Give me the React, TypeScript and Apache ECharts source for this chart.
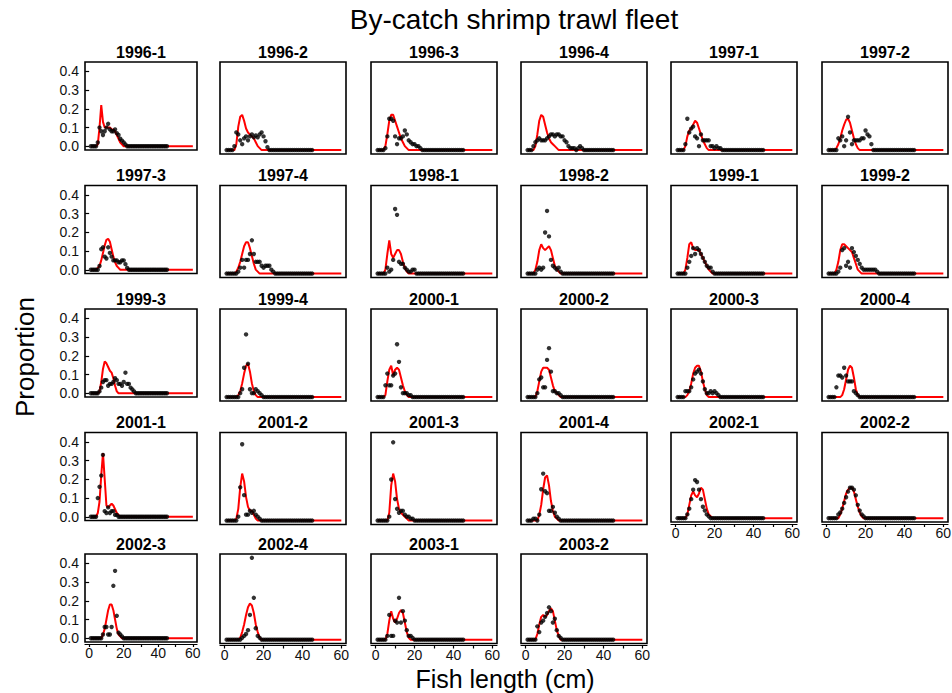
import React, { useEffect, useRef } from 'react';
import * as echarts from 'echarts';

// Panel labels (year-quarter), row by row, six per row
const panelLabels = [
  '1996-1', '1996-2', '1996-3', '1996-4', '1997-1', '1997-2',
  '1997-3', '1997-4', '1998-1', '1998-2', '1999-1', '1999-2',
  '1999-3', '1999-4', '2000-1', '2000-2', '2000-3', '2000-4',
  '2001-1', '2001-2', '2001-3', '2001-4', '2002-1', '2002-2',
  '2002-3', '2002-4', '2003-1', '2003-2',
];

// Observed length compositions: first non-zero length (cm) and proportions from there on.
// Every other length from 1 to 45 cm is zero.
const obsStart = [
  5, 5, 5, 4, 5, 6,
  6, 7, 6, 6, 6, 6,
  6, 8, 5, 6, 5, 5,
  5, 7, 7, 4, 6, 6,
  8, 9, 6, 6,
];
const obsValues: number[][] = [
  [0.02, 0.10, 0.08, 0.06, 0.08, 0.10, 0.12, 0.09, 0.08, 0.08, 0.09, 0.07, 0.06, 0.04, 0.03, 0.02, 0.01], // 1996-1
  [0.02, 0.09, 0.08, 0.05, 0.03, 0.06, 0.07, 0.05, 0.07, 0.08, 0.065, 0.075, 0.065, 0.08, 0.09, 0.07, 0.045, 0.015], // 1996-2
  [0.01, 0.07, 0.16, 0.16, 0.15, 0.07, 0.03, 0.06, 0.06, 0.07, 0.10, 0.08, 0.05, 0.04, 0.03, 0.03, 0.02, 0.02, 0.01], // 1996-3
  [0.02, 0.04, 0.05, 0.06, 0.05, 0.05, 0.05, 0.06, 0.07, 0.08, 0.08, 0.07, 0.08, 0.08, 0.07, 0.07, 0.05, 0.04, 0.02, 0.01, 0.01, 0.01, 0.0, 0.01, 0.02, 0.01], // 1996-4
  [0.03, 0.16, 0.09, 0.11, 0.12, 0.07, 0.06, 0.02, 0.08, 0.05, 0.05, 0.05, 0.05, 0.02, 0.02, 0.01, 0.02, 0.01, 0.01], // 1997-1
  [0.06, 0.05, 0.07, 0.02, 0.05, 0.17, 0.09, 0.03, 0.05, 0.05, 0.05, 0.05, 0.06, 0.06, 0.10, 0.08, 0.07, 0.03], // 1997-2
  [0.02, 0.11, 0.12, 0.07, 0.06, 0.12, 0.09, 0.07, 0.05, 0.05, 0.05, 0.04, 0.04, 0.05, 0.05, 0.03, 0.01], // 1997-3
  [0.01, 0.03, 0.07, 0.03, 0.07, 0.07, 0.10, 0.17, 0.10, 0.06, 0.06, 0.06, 0.04, 0.03, 0.04, 0.04, 0.04, 0.02, 0.01], // 1997-4
  [0.03, 0.01, 0.02, 0.07, 0.33, 0.30, 0.06, 0.05, 0.05, 0.03, 0.02, 0.01, 0.01, 0.02, 0.02], // 1998-1
  [0.02, 0.03, 0.02, 0.03, 0.21, 0.32, 0.19, 0.07, 0.04, 0.03, 0.02, 0.03, 0.01], // 1998-2
  [0.03, 0.06, 0.09, 0.13, 0.10, 0.13, 0.12, 0.10, 0.08, 0.06, 0.04, 0.03, 0.03, 0.01], // 1999-1
  [0.01, 0.03, 0.12, 0.13, 0.04, 0.06, 0.03, 0.13, 0.11, 0.09, 0.07, 0.05, 0.03, 0.02, 0.02, 0.02, 0.02, 0.02, 0.02, 0.02, 0.01], // 1999-2
  [0.01, 0.03, 0.06, 0.07, 0.07, 0.04, 0.05, 0.05, 0.06, 0.08, 0.07, 0.05, 0.05, 0.04, 0.06, 0.11, 0.05, 0.05, 0.03, 0.02, 0.01], // 1999-3
  [0.02, 0.04, 0.15, 0.32, 0.17, 0.04, 0.02, 0.02, 0.04, 0.03, 0.02, 0.01], // 1999-4
  [0.06, 0.12, 0.06, 0.06, 0.11, 0.12, 0.27, 0.18, 0.05, 0.02, 0.02, 0.02, 0.01, 0.01], // 2000-1
  [0.02, 0.09, 0.10, 0.05, 0.05, 0.19, 0.25, 0.13, 0.03, 0.03, 0.02, 0.02, 0.01], // 2000-2
  [0.03, 0.03, 0.03, 0.05, 0.09, 0.12, 0.13, 0.14, 0.12, 0.08, 0.04, 0.02, 0.02, 0.03, 0.02, 0.03, 0.02, 0.01], // 2000-3
  [0.05, 0.11, 0.11, 0.10, 0.15, 0.11, 0.08, 0.08, 0.08, 0.03, 0.02, 0.01], // 2000-4
  [0.10, 0.16, 0.22, 0.33, 0.03, 0.02, 0.05, 0.02, 0.03, 0.03, 0.01, 0.01], // 2001-1
  [0.02, 0.17, 0.39, 0.13, 0.03, 0.03, 0.05, 0.04, 0.05, 0.03, 0.02, 0.01], // 2001-2
  [0.02, 0.21, 0.40, 0.11, 0.06, 0.04, 0.05, 0.05, 0.03, 0.02, 0.02, 0.01, 0.01], // 2001-3
  [0.01, 0.01, 0.0, 0.03, 0.16, 0.24, 0.15, 0.14, 0.05, 0.05, 0.07, 0.04, 0.02, 0.01], // 2001-4
  [0.02, 0.05, 0.10, 0.15, 0.20, 0.19, 0.15, 0.10, 0.06, 0.04, 0.02, 0.01], // 2002-1
  [0.02, 0.03, 0.05, 0.08, 0.11, 0.14, 0.16, 0.16, 0.15, 0.12, 0.07, 0.04, 0.02, 0.01], // 2002-2
  [0.02, 0.06, 0.06, 0.02, 0.02, 0.06, 0.28, 0.36, 0.12, 0.03, 0.02, 0.01], // 2002-3
  [0.01, 0.02, 0.03, 0.05, 0.13, 0.43, 0.22, 0.06, 0.02, 0.01], // 2002-4
  [0.02, 0.13, 0.02, 0.02, 0.10, 0.09, 0.22, 0.09, 0.15, 0.10, 0.05, 0.02, 0.02, 0.01], // 2003-1
  [0.07, 0.04, 0.09, 0.10, 0.12, 0.14, 0.17, 0.15, 0.09, 0.11, 0.05, 0.02, 0.01], // 2003-2
];

// Expected (model) length compositions: first non-zero length (cm) and values.
// Every other length from 1 to 60 cm is zero.
const fitStart = [
  5, 6, 5, 5, 5, 5,
  5, 6, 5, 5, 5, 5,
  6, 7, 5, 6, 6, 8,
  5, 6, 7, 7, 6, 7,
  8, 8, 6, 6,
];
const fitValues: number[][] = [
  [0.01, 0.10, 0.22, 0.13, 0.10, 0.10, 0.10, 0.10, 0.09, 0.09, 0.08, 0.06, 0.04, 0.02, 0.01], // 1996-1
  [0.03, 0.12, 0.17, 0.18, 0.15, 0.11, 0.09, 0.08, 0.07, 0.06, 0.04, 0.02, 0.01], // 1996-2
  [0.02, 0.08, 0.15, 0.18, 0.18, 0.15, 0.12, 0.09, 0.06, 0.04, 0.02, 0.01], // 1996-3
  [0.02, 0.08, 0.15, 0.18, 0.17, 0.13, 0.09, 0.06, 0.04, 0.03, 0.02, 0.01], // 1996-4
  [0.02, 0.07, 0.10, 0.11, 0.13, 0.15, 0.14, 0.11, 0.08, 0.05, 0.03, 0.01], // 1997-1
  [0.01, 0.03, 0.06, 0.10, 0.13, 0.155, 0.16, 0.14, 0.10, 0.06, 0.03, 0.01], // 1997-2
  [0.01, 0.02, 0.05, 0.09, 0.13, 0.16, 0.165, 0.15, 0.11, 0.07, 0.04, 0.02, 0.01], // 1997-3
  [0.01, 0.03, 0.06, 0.10, 0.14, 0.16, 0.16, 0.13, 0.09, 0.05, 0.02, 0.01], // 1997-4
  [0.02, 0.10, 0.17, 0.10, 0.08, 0.10, 0.12, 0.12, 0.10, 0.06, 0.03, 0.01], // 1998-1
  [0.02, 0.06, 0.12, 0.15, 0.13, 0.12, 0.13, 0.14, 0.12, 0.08, 0.04, 0.02, 0.01], // 1998-2
  [0.02, 0.08, 0.15, 0.16, 0.13, 0.12, 0.12, 0.12, 0.10, 0.08, 0.06, 0.04, 0.02, 0.01], // 1999-1
  [0.02, 0.06, 0.12, 0.15, 0.15, 0.14, 0.13, 0.12, 0.11, 0.08, 0.05, 0.02, 0.01], // 1999-2
  [0.01, 0.06, 0.13, 0.17, 0.16, 0.14, 0.12, 0.11, 0.08, 0.04, 0.01], // 1999-3
  [0.01, 0.03, 0.07, 0.12, 0.16, 0.17, 0.13, 0.07, 0.03, 0.01], // 1999-4
  [0.01, 0.08, 0.14, 0.16, 0.11, 0.14, 0.15, 0.14, 0.10, 0.06, 0.03, 0.01], // 2000-1
  [0.03, 0.08, 0.13, 0.15, 0.15, 0.15, 0.14, 0.10, 0.06, 0.03, 0.02, 0.01], // 2000-2
  [0.01, 0.03, 0.07, 0.12, 0.15, 0.16, 0.16, 0.13, 0.08, 0.04, 0.01], // 2000-3
  [0.01, 0.04, 0.09, 0.14, 0.16, 0.15, 0.10, 0.04, 0.01], // 2000-4
  [0.02, 0.08, 0.22, 0.34, 0.20, 0.06, 0.05, 0.06, 0.07, 0.06, 0.04, 0.02, 0.01], // 2001-1
  [0.01, 0.06, 0.17, 0.24, 0.20, 0.12, 0.07, 0.05, 0.05, 0.03, 0.01], // 2001-2
  [0.04, 0.18, 0.24, 0.20, 0.11, 0.06, 0.04, 0.03, 0.02, 0.01], // 2001-3
  [0.03, 0.08, 0.16, 0.22, 0.23, 0.18, 0.10, 0.05, 0.02, 0.01], // 2001-4
  [0.02, 0.07, 0.12, 0.14, 0.12, 0.11, 0.13, 0.16, 0.15, 0.10, 0.05, 0.02, 0.01], // 2002-1
  [0.02, 0.05, 0.09, 0.13, 0.15, 0.16, 0.16, 0.14, 0.10, 0.06, 0.03, 0.01], // 2002-2
  [0.02, 0.05, 0.10, 0.15, 0.18, 0.18, 0.15, 0.10, 0.05, 0.02, 0.01], // 2002-3
  [0.01, 0.04, 0.08, 0.13, 0.17, 0.19, 0.18, 0.14, 0.08, 0.04, 0.01], // 2002-4
  [0.03, 0.10, 0.15, 0.11, 0.09, 0.11, 0.14, 0.155, 0.14, 0.09, 0.04, 0.01], // 2003-1
  [0.03, 0.08, 0.12, 0.13, 0.12, 0.13, 0.15, 0.165, 0.15, 0.10, 0.05, 0.02], // 2003-2
];

const obsLastLength = 45;
const fitLastLength = 60;
const lengthTicks = [0, 10, 20, 30, 40, 50, 60];
const lengthLabels = [0, 20, 40, 60];
const proportionTicks = [0, 0.1, 0.2, 0.3, 0.4];
// Panels that carry the length axis (bottom of each column)
const axisPanels = [22, 23, 24, 25, 26, 27];

// Layout of the panel boxes (px)
const colLeft = [85, 220, 371, 521, 671, 822];
const colWidth = [112, 126, 126, 126, 126, 126];
const rowTop = [62, 185.5, 309, 432.5, 554];
const FONT = '"Liberation Sans", Arial, Helvetica, sans-serif';

function composition(start: number, values: number[], last: number): [number, number][] {
  const out: [number, number][] = [];
  for (let len = 1; len <= last; len++) {
    const k = len - start;
    out.push([len, k >= 0 && k < values.length ? values[k] : 0]);
  }
  return out;
}

export default function App() {
  const ref = useRef<HTMLDivElement>(null);

  useEffect(() => {
    if (!ref.current) return;
    const chart = echarts.init(ref.current, null, { renderer: 'svg' });

    const grid: any[] = [];
    const xAxis: any[] = [];
    const yAxis: any[] = [];
    const series: any[] = [];
    const graphic: any[] = [];

    panelLabels.forEach((label, i) => {
      const row = Math.floor(i / 6);
      const col = i % 6;
      const showX = axisPanels.includes(i);
      const showY = col === 0;
      const left = colLeft[col];
      const width = colWidth[col];
      const top = rowTop[row];
      const height = showY ? 88 : showX ? 89.5 : 92;

      grid.push({
        left, top, width, height,
        show: true,
        borderColor: '#000',
        borderWidth: 1.6,
        backgroundColor: 'transparent',
        outerBoundsMode: 'none',
      });

      xAxis.push({
        type: 'value',
        gridIndex: i,
        min: -2.4,
        max: 62.4,
        offset: showX ? 2 : 0,
        axisLine: { show: showX, onZero: false, lineStyle: { color: '#000', width: 1.2 } },
        axisTick: { show: showX, customValues: lengthTicks, length: 3, lineStyle: { color: '#000', width: 1.2 } },
        axisLabel: {
          show: showX,
          customValues: lengthLabels,
          margin: 2,
          color: '#111',
          fontFamily: FONT,
          fontSize: 14,
        },
        splitLine: { show: false },
      });

      yAxis.push({
        type: 'value',
        gridIndex: i,
        min: -0.02,
        max: 0.45,
        axisLine: { show: false },
        axisTick: { show: showY, customValues: proportionTicks, length: 4, lineStyle: { color: '#000', width: 1.2 } },
        axisLabel: {
          show: showY,
          customValues: proportionTicks,
          margin: 6,
          color: '#111',
          fontFamily: FONT,
          fontSize: 14,
          formatter: (v: number) => v.toFixed(1),
        },
        splitLine: { show: false },
      });

      series.push({
        type: 'line',
        name: 'Expected ' + label,
        xAxisIndex: i,
        yAxisIndex: i,
        data: composition(fitStart[i], fitValues[i], fitLastLength),
        showSymbol: false,
        symbol: 'none',
        lineStyle: { color: '#ff0000', width: 2 },
        z: 2,
      });

      series.push({
        type: 'scatter',
        name: 'Observed ' + label,
        xAxisIndex: i,
        yAxisIndex: i,
        data: composition(obsStart[i], obsValues[i], obsLastLength),
        symbol: 'circle',
        symbolSize: 4.4,
        itemStyle: { color: '#000' },
        z: 3,
      });

      graphic.push({
        type: 'text',
        x: left + width / 2,
        y: top - 2,
        style: {
          text: label,
          font: `bold 16px ${FONT}`,
          fill: '#000',
          textAlign: 'center',
          textVerticalAlign: 'bottom',
        },
      });
    });

    graphic.push({
      type: 'text',
      x: 514,
      y: 19,
      style: {
        text: 'By-catch shrimp trawl fleet',
        font: `28px ${FONT}`,
        fill: '#000',
        textAlign: 'center',
        textVerticalAlign: 'middle',
      },
    });
    graphic.push({
      type: 'text',
      x: 505,
      y: 679,
      style: {
        text: 'Fish length (cm)',
        font: `25px ${FONT}`,
        fill: '#000',
        textAlign: 'center',
        textVerticalAlign: 'middle',
      },
    });
    graphic.push({
      type: 'text',
      x: 25,
      y: 357,
      rotation: Math.PI / 2,
      style: {
        text: 'Proportion',
        font: `26px ${FONT}`,
        fill: '#000',
        textAlign: 'center',
        textVerticalAlign: 'middle',
      },
    });

    chart.setOption({
      animation: false,
      backgroundColor: '#fff',
      grid,
      xAxis,
      yAxis,
      series,
      graphic,
    });

    return () => chart.dispose();
  }, []);

  return (
    <div
      ref={ref}
      style={{ position: 'fixed', left: 0, top: 0, width: 952, height: 693 }}
    />
  );
}
